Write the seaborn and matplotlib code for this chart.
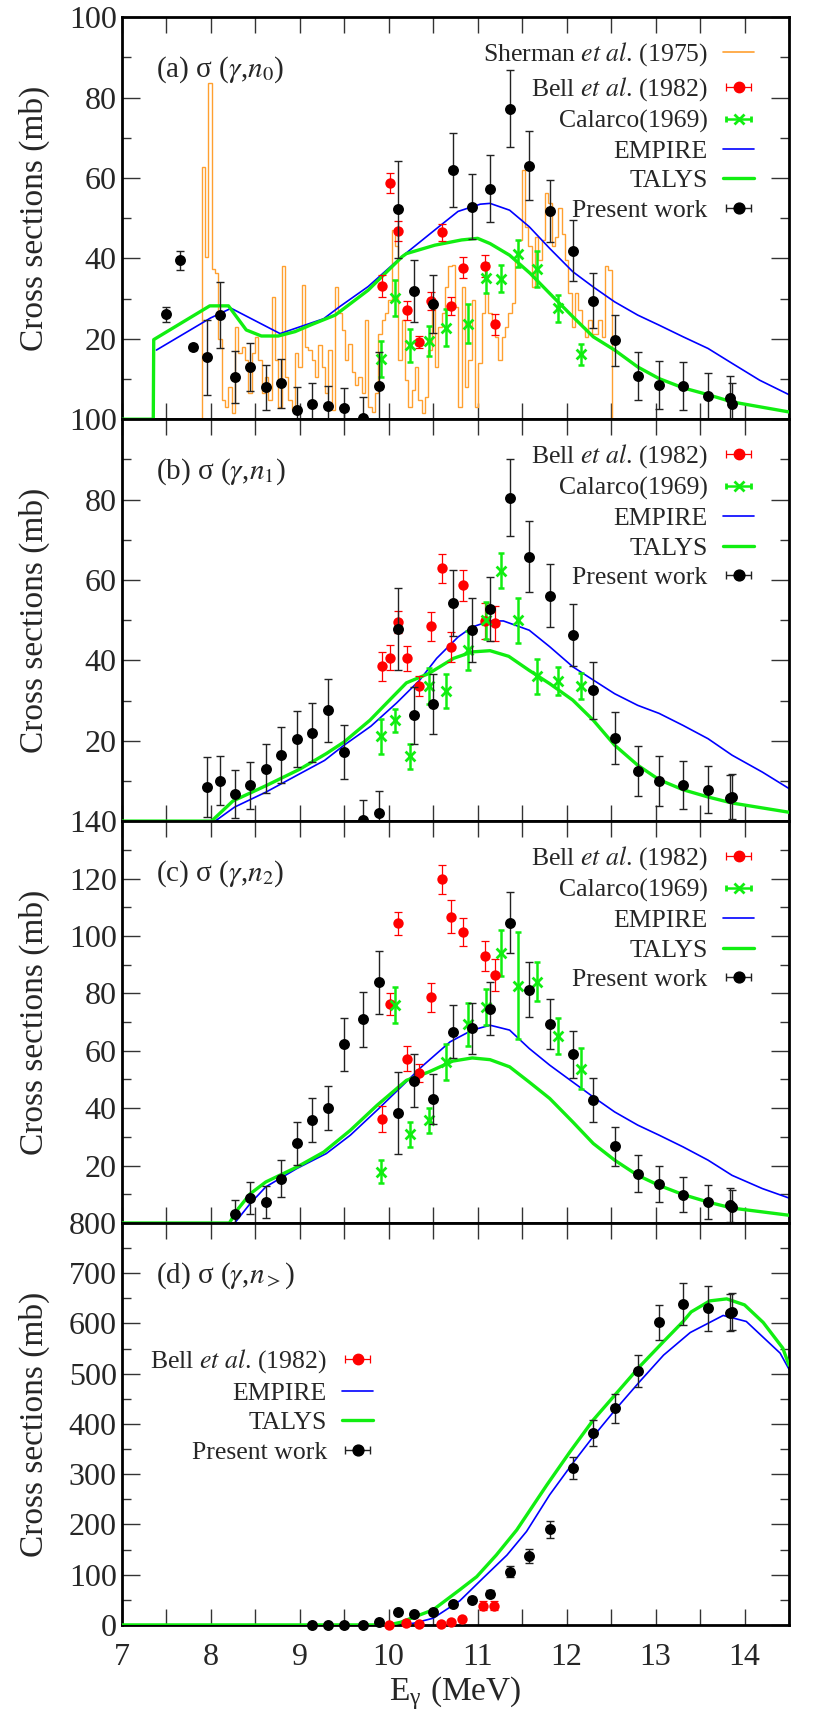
import numpy as np
import matplotlib
matplotlib.use("Agg")
import matplotlib.pyplot as plt
from matplotlib.ticker import MultipleLocator, FuncFormatter
import seaborn as sns

# ---------------- data ----------------
# energies of the present-work points (MeV)
pw_e = [7.50, 7.66, 7.80, 7.96, 8.11, 8.27, 8.445, 8.62, 8.79, 8.97, 9.14, 9.32,
        9.50, 9.71, 9.895, 10.11, 10.29, 10.50, 10.72, 10.94, 11.14, 11.36, 11.58,
        11.81, 12.07, 12.30, 12.54, 12.80, 13.04, 13.31, 13.59, 13.84, 13.86]

a_pw = [26.1, 39.5, 18.0, 15.4, 25.9, 10.5, 13.0, 7.9, 8.9, 2.4, 3.9, 3.3, 2.8, 0.4,
        8.3, 52.2, 31.9, 28.6, 62.0, 52.9, 57.4, 77.3, 63.1, 51.8, 41.9, 29.5, 19.6,
        10.7, 8.5, 8.2, 5.8, 5.3, 3.9]
a_pw_err = [1.8, 2.4, 0.8, 9.3, 8.2, 6.5, 6.0, 5.6, 6.0, 5.5, 5.0, 5.0, 5.0, 5.0, 8.5,
            12.0, 7.6, 7.2, 9.1, 8.1, 8.3, 9.5, 8.6, 7.8, 7.6, 6.8, 6.4, 6.0, 6.0,
            6.0, 5.7, 5.5, 5.0]

b_pw = [8.5, 10.1, 6.8, 8.9, 13.0, 16.5, 20.4, 22.0, 27.6, 17.2, 0.2, 2.1, 47.8, 26.3,
        29.1, 54.3, 47.5, 52.7, 80.5, 65.8, 56.1, 46.4, 32.6, 20.7, 12.4, 9.9, 8.9,
        7.8, 5.7, 6.1]
b_pw_err = [7.5, 6.2, 6.0, 5.8, 6.1, 7.0, 7.0, 7.4, 7.8, 6.6, 5.0, 5.5, 10.2, 7.0, 7.5,
            8.3, 7.9, 8.0, 9.5, 8.8, 7.9, 7.7, 7.1, 6.5, 6.2, 6.2, 6.0, 5.9, 5.7, 5.7]

c_pw = [3.0, 8.8, 7.3, 15.5, 27.7, 36.0, 40.1, 62.2, 70.9, 83.8, 38.3, 49.5, 43.1, 66.6,
        67.8, 74.7, 104.6, 81.3, 69.2, 58.7, 42.8, 26.8, 17.2, 13.5, 9.9, 7.3, 6.2, 5.6]
c_pw_err = [5.0, 5.6, 5.7, 6.5, 7.4, 7.7, 7.7, 9.1, 9.6, 11.0, 14.3, 9.2, 8.7, 9.2, 8.9,
            9.2, 10.7, 9.6, 8.7, 8.3, 7.6, 6.8, 6.5, 6.3, 6.2, 6.0, 6.0, 6.0]

d_pw = [0, 0, 0, 0, 6.6, 26.5, 21.2, 26.5, 41.1, 49.8, 61.7, 106.1, 137.9, 190.4, 311.8,
        382.7, 431.2, 505.5, 602.3, 638.8, 630.2, 621.5, 623.5]
d_pw_err = [1, 1, 1, 1, 2, 3, 3, 3, 4, 5, 7, 11, 14, 17, 22, 26, 29, 32, 35, 41, 45, 37, 37]

# Bell et al. (1982)
bell_e = [9.92, 10.01, 10.11, 10.21, 10.34, 10.48, 10.60, 10.70, 10.84, 11.08, 11.20]
a_bell = [33.1, 58.8, 46.8, 27.1, 19.1, 29.4, 46.5, 28.1, 37.7, 38.1, 23.6]
a_bell_err = [2.8, 2.5, 2.4, 2.3, 1.5, 2.3, 2.1, 2.2, 2.6, 2.7, 2.6]
b_bell = [38.5, 40.7, 49.5, 40.5, 33.6, 48.5, 62.9, 43.3, 58.7, 49.8, 49.2]
b_bell_err = [3.6, 3.0, 2.8, 3.1, 2.4, 3.6, 3.6, 3.7, 3.9, 4.4, 4.3]
c_bell = [36.1, 76.2, 104.4, 57.3, 52.3, 78.6, 119.7, 106.7, 101.4, 93.0, 86.3]
c_bell_err = [4.5, 3.8, 4.0, 4.4, 3.2, 5.0, 5.0, 5.7, 4.9, 5.2, 5.5]
d_bell_e = [10.00, 10.20, 10.34, 10.59, 10.70, 10.83, 11.06, 11.18]
d_bell = [0.5, 3.3, 1.0, 1.0, 6.6, 11.9, 38.5, 38.5]
d_bell_err = [1, 1, 1, 1, 2, 3, 9.5, 9.5]

# Calarco (1969)
cal_e = [9.91, 10.07, 10.24, 10.45, 10.65, 10.89, 11.09, 11.26, 11.45, 11.67, 11.90, 12.16]
a_cal = [14.9, 30.2, 18.4, 19.5, 22.7, 23.8, 35.2, 35.0, 41.2, 37.3, 27.6, 16.1]
a_cal_err = [4.5, 4.4, 4.1, 3.7, 4.6, 4.8, 3.7, 3.4, 3.3, 4.5, 3.3, 2.7]
b_cal = [21.1, 25.1, 16.1, 33.6, 32.4, 42.5, 50.0, 62.3, 50.0, 36.0, 34.9, 33.6]
b_cal_err = [4.4, 2.9, 3.2, 4.4, 4.3, 4.9, 4.6, 4.4, 5.6, 4.3, 3.4, 3.2]
c_cal = [17.8, 75.9, 30.9, 35.8, 56.1, 69.2, 75.3, 93.9, 82.6, 84.0, 65.1, 53.8]
c_cal_err = [4.0, 6.4, 4.4, 4.4, 6.3, 7.6, 6.3, 8.0, 18.6, 6.8, 6.4, 7.0]

# Sherman et al. (1975) histogram, panel (a)
sherman_start, sherman_end = 7.90, 12.505
sherman = [62.8, 40.4, 83.6, 37.3, 36.5, 20.0, 4.8, 3.1, 8.1, 1.5, 23.0, 16.4, 18.0,
           14.7, 6.4, 16.4, 20.5, 14.7, 6.4, 10.5, 4.8, 30.4, 14.7, 3.1, 38.0, 10.5,
           4.8, 2.3, 16.4, 13.1, 33.3, 18.0, 17.2, 14.7, 10.5, 18.4, 13.1, 6.4, 17.2,
           2.3, 32.9,
           26.3, 22.2, 14.7, 18.8, 11.8, 8.5, 10.5, 6.4, 24.7, 3.1, 1.8, 6.4, 21.3,
           24.7, 26.3, 29.6, 47.1, 43.0, 14.7, 24.7, 9.7, 3.1, 7.2, 13.1, 4.8, 1.5,
           5.6, 17.2, 29.6, 13.1, 23.0, 26.3, 32.9, 38.0, 38.3, 28.0, 3.1, 32.9, 8.1,
           14.7, 29.6, 3.1,
           13.9, 26.3, 31.3, 26.3, 23.0, 20.5, 14.7, 20.5, 23.0, 26.3, 28.8, 39.6,
           44.6, 62.0, 47.9, 43.0, 32.9, 45.4, 39.6, 44.6, 56.2, 53.7, 43.0, 45.4,
           52.5, 46.2, 39.6, 31.3, 23.0, 31.3, 27.1, 23.0, 20.5, 24.7, 21.3, 21.3,
           24.7, 20.5, 38.0, 37.1]

# EMPIRE / TALYS calculations
a_emp_e = [7.39, 8.00, 8.23, 8.78, 9.27, 9.45, 9.77, 10.145, 10.52, 10.78, 11.03, 11.14,
           11.36, 11.58, 11.81, 12.07, 12.30, 12.54, 12.80, 13.04, 13.31, 13.59, 13.86,
           14.17, 14.5]
a_emp = [17.2, 25.2, 27.6, 21.3, 25.0, 28.0, 33.0, 40.4, 47.1, 51.7, 53.5, 53.7, 52.0,
         47.9, 42.5, 36.7, 32.9, 29.2, 25.9, 23.4, 20.5, 17.6, 13.9, 9.7, 6.1]
a_tal_e = [7.0, 7.355, 7.36, 7.99, 8.20, 8.40, 8.57, 8.76, 8.95, 9.13, 9.40, 9.77,
           10.15, 10.20, 10.52, 10.82, 11.0, 11.14, 11.36, 11.59, 11.81, 12.07, 12.30,
           12.54, 12.80, 13.04, 13.31, 13.59, 13.86, 14.5]
a_tal = [0, 0, 19.8, 28.2, 28.2, 22.2, 20.7, 20.7, 21.8, 23.5, 25.9, 32.1, 40.4, 41.2,
         43.3, 44.6, 45.0, 43.7, 40.8, 36.3, 31.3, 25.5, 20.5, 17.2, 13.0, 10.1, 7.8,
         6.1, 4.3, 1.8]

b_emp_e = [7.0, 8.05, 8.27, 8.62, 8.97, 9.28, 9.50, 9.80, 10.09, 10.35, 10.54, 10.78,
           10.94, 11.14, 11.29, 11.58, 11.81, 12.07, 12.30, 12.54, 12.80, 13.04, 13.31,
           13.59, 13.86, 14.2, 14.5]
b_emp = [0, 0, 3.5, 7.2, 11.4, 15.1, 18.9, 23.6, 29.4, 35.1, 40.5, 45.8, 48.3, 49.8,
         49.8, 47.5, 43.4, 38.4, 35.1, 31.7, 28.8, 26.8, 23.8, 20.5, 16.4, 12.2, 8.1]
b_tal_e = [7.0, 8.01, 8.25, 8.63, 9.0, 9.30, 9.50, 9.79, 10.01, 10.2, 10.45, 10.73,
           10.94, 11.14, 11.35, 11.58, 11.81, 12.07, 12.30, 12.54, 12.80, 13.04, 13.31,
           13.59, 13.86, 14.5]
b_tal = [0, 0, 5.0, 8.9, 12.9, 16.8, 19.7, 25.1, 30.1, 34.4, 36.7, 40.5, 42.1, 42.4,
         41.0, 37.5, 34.2, 30.1, 25.1, 18.9, 13.9, 10.3, 7.8, 6.0, 4.5, 2.2]

c_emp_e = [7.0, 8.27, 8.445, 8.62, 8.97, 9.30, 9.57, 9.87, 10.16, 10.37, 10.69, 10.94,
           11.14, 11.36, 11.58, 11.81, 12.07, 12.30, 12.54, 12.80, 13.04, 13.31, 13.59,
           13.86, 14.2, 14.5]
c_emp = [0, 0, 6.8, 12.6, 19.0, 24.2, 30.6, 39.3, 48.0, 54.4, 63.1, 67.2, 68.9, 67.2,
         60.8, 55.0, 49.1, 43.9, 38.7, 34.1, 30.6, 26.5, 21.9, 16.6, 12.0, 8.7]
c_tal_e = [7.0, 8.21, 8.31, 8.445, 8.62, 8.97, 9.27, 9.57, 9.87, 10.2, 10.45, 10.72,
           10.94, 11.14, 11.36, 11.58, 11.81, 12.07, 12.30, 12.54, 12.80, 13.04, 13.31,
           13.59, 13.86, 14.5]
c_tal = [0, 0, 5.0, 10.2, 14.3, 19.5, 24.7, 32.3, 41.0, 49.7, 52.6, 56.4, 57.5, 56.9,
         54.4, 49.1, 43.4, 35.2, 27.7, 21.9, 16.6, 13.1, 9.9, 7.3, 5.2, 2.7]

d_emp_e = [7.0, 10.0, 10.28, 10.5, 10.8, 11.06, 11.33, 11.55, 11.81, 12.07, 12.30,
           12.56, 12.82, 13.09, 13.39, 13.76, 14.02, 14.40, 14.5]
d_emp = [0, 0, 3.3, 13.3, 48, 93, 139, 186, 259, 322, 375, 431, 484, 537, 582, 616,
         604, 541, 509]
d_tal_e = [7.0, 10.0, 10.13, 10.5, 10.8, 10.99, 11.21, 11.44, 11.78, 12.04, 12.30,
           12.56, 12.82, 13.09, 13.31, 13.40, 13.61, 13.80, 14.0, 14.21, 14.43, 14.5]
d_tal = [0, 0, 5, 30, 70, 96, 139, 189, 279, 345, 408, 461, 514, 564, 604, 623, 645,
         649, 637, 602, 551, 517]

# ---------------- style ----------------
sns.set_style("ticks")
plt.rcParams['font.family'] = 'serif'
plt.rcParams['font.serif'] = ['Liberation Serif', 'DejaVu Serif']
plt.rcParams['mathtext.fontset'] = 'stix'

ORANGE = '#ffa030'
RED = '#ff0000'
GREEN = '#11ee11'
BLUE = '#0000ff'
BLACK = '#000000'

fig, axes = plt.subplots(4, 1, sharex=True, figsize=(8.14, 17.29), dpi=100)
fig.subplots_adjust(left=0.1495, right=0.9693, top=0.99, bottom=0.0602, hspace=0)


def draw_points(ax, x, y, err, color, ecolor, marker, size, elw, cap, z, lw=0):
    ax.errorbar(x, y, yerr=err, fmt='none', ecolor=ecolor, elinewidth=elw,
                capsize=cap, capthick=elw, zorder=z)
    if marker == 'x':
        sns.scatterplot(x=x, y=y, ax=ax, marker='x', color=color, s=size,
                        linewidth=lw, zorder=z + 0.1, legend=False, clip_on=False)
    else:
        sns.scatterplot(x=x, y=y, ax=ax, marker='o', color=color, s=size,
                        edgecolor=color, linewidth=0, zorder=z + 0.1, legend=False,
                        clip_on=False)


def draw_models(ax, emp_e, emp, tal_e, tal):
    sns.lineplot(x=emp_e, y=emp, ax=ax, color=BLUE, lw=1.2, sort=False,
                 estimator=None, zorder=2, legend=False)
    sns.lineplot(x=tal_e, y=tal, ax=ax, color=GREEN, lw=2.4, sort=False,
                 estimator=None, zorder=3, legend=False)


def proxies(ax):
    bell = ax.errorbar([np.nan], [np.nan], xerr=[1], fmt='o', color=RED, ms=7.5,
                       ecolor=RED, elinewidth=0.9, capsize=2.6, capthick=0.9)
    cal = ax.errorbar([np.nan], [np.nan], xerr=[1], fmt='x', color=GREEN, ms=7,
                      mew=2.0, ecolor=GREEN, elinewidth=1.8, capsize=2.4, capthick=1.8)
    emp = plt.Line2D([], [], color=BLUE, lw=1.2)
    tal = plt.Line2D([], [], color=GREEN, lw=2.4)
    pw = ax.errorbar([np.nan], [np.nan], xerr=[1], fmt='o', color=BLACK, ms=7.8,
                     ecolor='#222222', elinewidth=1.0, capsize=2.9, capthick=1.0)
    return bell, cal, emp, tal, pw


bell_lab = 'Bell $\\it{et\\ al}$. (1982)'
leg_kw = dict(frameon=False, markerfirst=False, fontsize=18.5, handlelength=1.2,
              handletextpad=0.6, labelspacing=0.26, borderaxespad=0, borderpad=0)

# bottom "0" of the upper panels sits under the next panel's top label
no_zero = FuncFormatter(lambda v, p: '' if v == 0 else f'{v:g}')

panels = [
    (axes[0], pw_e, a_pw, a_pw_err, a_bell, a_bell_err, a_cal, a_cal_err,
     a_emp_e, a_emp, a_tal_e, a_tal, 100, '(a) σ ($\\gamma$,$n_{\\mathit{0}}$)'),
    (axes[1], pw_e[3:], b_pw, b_pw_err, b_bell, b_bell_err, b_cal, b_cal_err,
     b_emp_e, b_emp, b_tal_e, b_tal, 100, '(b) σ ($\\gamma$,$n_{\\mathit{1}}$)'),
    (axes[2], pw_e[5:], c_pw, c_pw_err, c_bell, c_bell_err, c_cal, c_cal_err,
     c_emp_e, c_emp, c_tal_e, c_tal, 140, '(c) σ ($\\gamma$,$n_{2}$)'),
]

for i, (ax, px, py, pe, by, be, cy, ce, ee, ey, te, ty, ytop, title) in enumerate(panels):
    if i == 0:
        edges = np.linspace(sherman_start, sherman_end, len(sherman) + 1)
        ax.stairs(sherman, edges, baseline=0, color=ORANGE, lw=1.0, zorder=1)
    draw_models(ax, ee, ey, te, ty)
    draw_points(ax, bell_e, by, be, RED, RED, 'o', 56, 0.9, 2.6, 4)
    draw_points(ax, cal_e, cy, ce, GREEN, GREEN, 'x', 50, 1.8, 2.4, 4, lw=2.0)
    draw_points(ax, px, py, pe, BLACK, '#222222', 'o', 62, 1.0, 2.9, 5)
    ax.set_ylim(0, ytop)
    ax.yaxis.set_major_locator(MultipleLocator(20))
    ax.yaxis.set_minor_locator(MultipleLocator(10))
    ax.yaxis.set_major_formatter(no_zero)
    ax.text(0.052, 0.869, title, transform=ax.transAxes, fontsize=21,
            ha='left', va='center')
    bell, cal, emp, tal, pw = proxies(ax)
    if i == 0:
        sher = plt.Line2D([], [], color=ORANGE, lw=1.2)
        ax.legend([sher, bell, cal, emp, tal, pw],
                  ['Sherman $\\it{et\\ al}$. (1975)', bell_lab, 'Calarco(1969)',
                   'EMPIRE', 'TALYS', 'Present work'],
                  loc='upper right', bbox_to_anchor=(0.9475, 0.942), **leg_kw)
    else:
        ax.legend([bell, cal, emp, tal, pw],
                  [bell_lab, 'Calarco(1969)', 'EMPIRE', 'TALYS', 'Present work'],
                  loc='upper right', bbox_to_anchor=(0.9475, 0.942), **leg_kw)

# panel (d)
ax = axes[3]
draw_models(ax, d_emp_e, d_emp, d_tal_e, d_tal)
draw_points(ax, d_bell_e, d_bell, d_bell_err, RED, RED, 'o', 56, 0.9, 2.6, 4)
draw_points(ax, pw_e[10:], d_pw, d_pw_err, BLACK, '#222222', 'o', 62, 1.0, 2.9, 5)
ax.set_ylim(0, 800)
ax.yaxis.set_major_locator(MultipleLocator(100))
ax.yaxis.set_minor_locator(MultipleLocator(50))
ax.text(0.052, 0.869, '(d) σ ($\\gamma$,$n_{>}$)', transform=ax.transAxes,
        fontsize=21, ha='left', va='center')
bell, cal, emp, tal, pw = proxies(ax)
ax.legend([bell, emp, tal, pw], [bell_lab, 'EMPIRE', 'TALYS', 'Present work'],
          loc='upper right', bbox_to_anchor=(0.3766, 0.691), **leg_kw)

ax.set_xlim(7, 14.5)
ax.xaxis.set_major_locator(MultipleLocator(1))
ax.xaxis.set_minor_locator(MultipleLocator(0.5))
ax.set_xlabel('E$_{\\mathregular{γ}}$ (MeV)', fontsize=24, labelpad=2)

for ax in axes:
    for sp in ax.spines.values():
        sp.set_linewidth(2.0)
        sp.set_color('black')
    ax.tick_params(which='both', direction='in', top=True, right=True,
                   width=1.0, color='#333333', labelsize=23)
    ax.tick_params(axis='y', which='major', length=12.7, pad=3.5)
    ax.tick_params(axis='y', which='minor', length=6.7)
    ax.tick_params(axis='x', which='both', length=11.3, pad=13)
    ax.set_ylabel('Cross sections (mb)', fontsize=24)
    ax.yaxis.set_label_coords(-0.107, 0.5)

fig.savefig('out.png', dpi=100, facecolor='white')
